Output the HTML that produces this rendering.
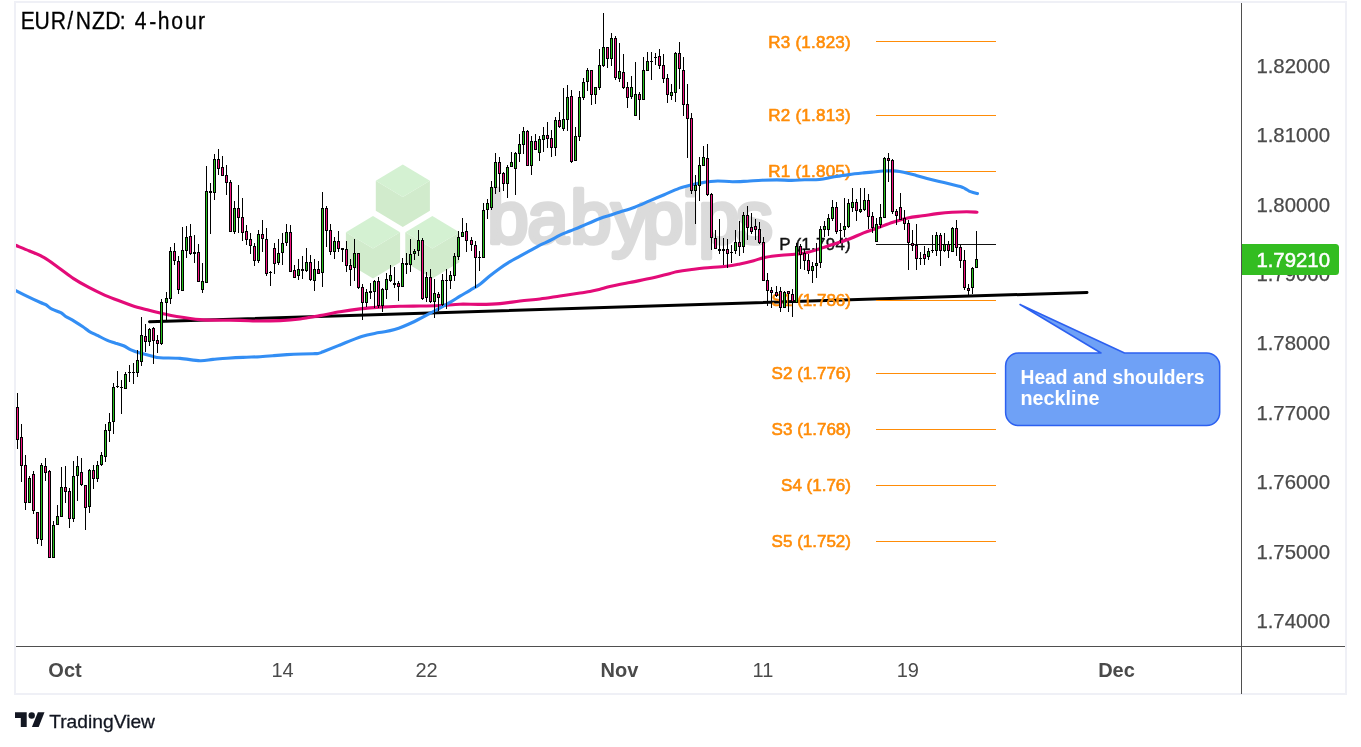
<!DOCTYPE html><html><head><meta charset="utf-8"><title>EUR/NZD: 4-hour</title>
<style>html,body{margin:0;padding:0;background:#fff}body{width:1361px;height:747px;overflow:hidden}svg{display:block}text{font-family:"Liberation Sans","DejaVu Sans",sans-serif}</style></head><body>
<svg width="1361" height="747" viewBox="0 0 1361 747">
<rect width="1361" height="747" fill="#fff"/>
<rect x="15" y="2" width="1331" height="692" fill="#fff" stroke="#eff0f6" stroke-width="2"/>
<g><polygon points="375.8,180.8 402.8,197.1 429.9,180.8 429.9,210.8 402.8,227.1 375.8,210.8" fill="#d1ebcc"/><polygon points="402.8,164.5 429.9,180.8 402.8,197.1 375.8,180.8" fill="#d4f1d2"/><polygon points="345.9,232.3 373.0,248.6 400.1,232.3 400.1,262.3 373.0,278.6 345.9,262.3" fill="#d1ebcc"/><polygon points="373.0,216.0 400.1,232.3 373.0,248.6 345.9,232.3" fill="#d4f1d2"/><polygon points="405.3,232.3 432.4,248.6 459.4,232.3 459.4,262.3 432.4,278.6 405.3,262.3" fill="#d1ebcc"/><polygon points="432.4,216.0 459.4,232.3 432.4,248.6 405.3,232.3" fill="#d4f1d2"/></g>
<text x="487.5 527.5 570.5 611.5 642.5 682.5 698.5 736" y="243.3" font-size="73.5" font-weight="400" fill="#dbdbdb" stroke="#dbdbdb" stroke-width="4.6" stroke-linejoin="round" stroke-linecap="round">babypips</text>
<path d="M149.5 321.75L1087 292.45" stroke="#000" stroke-width="3.0" stroke-linecap="round" fill="none"/>
<g shape-rendering="crispEdges">
<rect x="876" y="41" width="120" height="1" fill="#ff8c08"/>
<rect x="876" y="115" width="120" height="1" fill="#ff8c08"/>
<rect x="876" y="171" width="120" height="1" fill="#ff8c08"/>
<rect x="876" y="300" width="120" height="1" fill="#ff8c08"/>
<rect x="876" y="373" width="120" height="1" fill="#ff8c08"/>
<rect x="876" y="429" width="120" height="1" fill="#ff8c08"/>
<rect x="876" y="485" width="120" height="1" fill="#ff8c08"/>
<rect x="876" y="541" width="120" height="1" fill="#ff8c08"/>
<rect x="876" y="244" width="120" height="1" fill="#111"/>
</g>
<text x="851" y="47.6" font-size="17" letter-spacing="0.25" text-anchor="end" fill="#ff8c08" stroke="#ff8c08" stroke-width="0.6">R3 (1.823)</text>
<text x="851" y="120.8" font-size="17" letter-spacing="0.25" text-anchor="end" fill="#ff8c08" stroke="#ff8c08" stroke-width="0.6">R2 (1.813)</text>
<text x="851" y="176.8" font-size="17" letter-spacing="0.25" text-anchor="end" fill="#ff8c08" stroke="#ff8c08" stroke-width="0.6">R1 (1.805)</text>
<text x="851" y="305.8" font-size="17" letter-spacing="0" text-anchor="end" fill="#ff8c08" stroke="#ff8c08" stroke-width="0.6">S1 (1.786)</text>
<text x="851" y="378.8" font-size="17" letter-spacing="0" text-anchor="end" fill="#ff8c08" stroke="#ff8c08" stroke-width="0.6">S2 (1.776)</text>
<text x="851" y="434.8" font-size="17" letter-spacing="0" text-anchor="end" fill="#ff8c08" stroke="#ff8c08" stroke-width="0.6">S3 (1.768)</text>
<text x="851" y="490.8" font-size="17" letter-spacing="0" text-anchor="end" fill="#ff8c08" stroke="#ff8c08" stroke-width="0.6">S4 (1.76)</text>
<text x="851" y="546.8" font-size="17" letter-spacing="0" text-anchor="end" fill="#ff8c08" stroke="#ff8c08" stroke-width="0.6">S5 (1.752)</text>
<text x="851" y="250.2" font-size="17" letter-spacing="0.25" text-anchor="end" fill="#111" stroke="#111" stroke-width="0.4">P (1.794)</text>
<clipPath id="cp"><rect x="16" y="3" width="1225" height="643"/></clipPath>
<g clip-path="url(#cp)" fill="none" stroke-linecap="round" stroke-linejoin="round">
<path d="M12.0 244.0C12.6 244.2 12.6 244.1 15.5 245.3C18.4 246.5 24.7 248.9 29.5 251.0C34.3 253.1 39.3 254.8 44.2 257.6C49.1 260.4 54.1 264.4 59.0 267.9C63.9 271.4 68.7 275.4 73.6 278.6C78.5 281.8 83.5 284.6 88.4 287.2C93.3 289.8 98.1 292.2 103.0 294.4C107.9 296.6 112.9 298.4 117.8 300.3C122.7 302.2 127.6 304.1 132.5 305.7C137.4 307.3 142.4 308.5 147.3 309.8C152.2 311.1 157.1 312.4 162.0 313.5C166.9 314.6 170.4 315.5 176.7 316.5C183.0 317.5 192.8 319.0 200.0 319.6C207.2 320.2 213.3 320.1 220.0 320.2C226.7 320.3 233.3 320.3 240.0 320.4C246.7 320.5 253.3 321.0 260.0 321.0C266.7 321.0 273.3 320.9 280.0 320.6C286.7 320.3 293.3 319.8 300.0 319.0C306.7 318.2 313.3 316.8 320.0 315.6C326.7 314.4 333.3 312.9 340.0 311.8C346.7 310.7 353.3 309.7 360.0 308.9C366.7 308.1 373.3 307.5 380.0 307.1C386.7 306.7 393.3 306.5 400.0 306.3C406.7 306.1 413.3 306.1 420.0 306.0C426.7 305.9 433.3 305.8 440.0 305.5C446.7 305.2 453.3 304.4 460.0 304.2C466.7 304.0 473.3 304.5 480.0 304.4C486.7 304.3 493.3 304.2 500.0 303.6C506.7 303.0 513.3 301.8 520.0 301.0C526.7 300.2 533.3 299.8 540.0 299.0C546.7 298.2 553.3 297.0 560.0 296.0C566.7 295.0 575.0 293.8 580.0 293.0C585.0 292.2 586.7 292.1 590.0 291.5C593.3 290.9 596.7 290.0 600.0 289.2C603.3 288.4 604.8 287.7 609.8 286.6C614.8 285.5 623.1 283.9 629.7 282.6C636.3 281.3 642.9 280.1 649.5 278.6C656.1 277.1 664.9 274.8 669.4 273.7C673.9 272.6 673.1 272.4 676.5 271.8C679.9 271.2 685.4 270.4 690.0 269.8C694.6 269.2 698.1 268.6 704.1 268.0C710.1 267.4 720.2 266.9 726.2 266.2C732.2 265.5 735.4 264.8 740.0 263.9C744.6 263.0 749.6 261.8 753.7 260.7C757.8 259.6 760.1 258.4 764.7 257.5C769.3 256.6 776.2 255.8 781.3 255.3C786.3 254.8 790.5 254.8 795.0 254.3C799.5 253.8 802.8 253.7 808.3 252.3C813.8 250.9 821.5 248.0 828.1 245.9C834.7 243.8 842.1 241.7 848.0 239.5C853.9 237.3 858.5 234.9 863.6 232.9C868.7 230.9 873.5 229.4 878.4 227.6C883.3 225.8 888.1 223.8 893.0 222.2C897.9 220.6 902.9 219.1 907.8 218.0C912.7 216.9 917.6 216.5 922.5 215.8C927.4 215.1 932.4 214.2 937.3 213.6C942.2 213.0 947.1 212.5 952.0 212.2C956.9 211.9 962.5 211.7 966.7 211.7C970.9 211.7 975.3 212.1 977.0 212.2" stroke="#e30b78" stroke-width="3.1"/>
<path d="M12.0 288.8C12.6 289.1 13.2 289.4 15.8 290.6C18.4 291.9 23.2 294.3 27.3 296.3C31.4 298.3 37.4 301.1 40.5 302.5C43.6 303.9 43.9 303.6 45.8 304.7C47.7 305.8 49.5 307.9 52.0 309.2C54.5 310.5 58.6 311.5 60.8 312.7C63.0 313.9 63.1 314.8 65.3 316.2C67.5 317.6 71.2 319.3 74.1 321.1C77.0 322.9 80.4 325.1 82.9 326.8C85.4 328.5 86.6 329.8 89.1 331.3C91.6 332.8 95.0 334.2 98.0 335.7C101.0 337.2 103.9 338.9 106.8 340.1C109.7 341.4 112.8 342.2 115.6 343.2C118.4 344.1 121.0 344.7 123.6 345.8C126.2 346.9 128.3 348.6 131.0 349.8C133.7 351.0 136.6 352.0 140.0 353.0C143.4 354.0 148.2 355.2 151.5 356.0C154.8 356.8 155.2 357.4 160.0 357.8C164.8 358.2 173.3 357.9 180.0 358.4C186.7 358.9 194.5 360.6 200.0 360.8C205.5 361.0 208.5 359.8 213.0 359.4C217.5 359.0 222.0 358.5 227.0 358.2C232.0 357.9 237.5 357.6 243.0 357.4C248.5 357.1 254.8 357.0 260.0 356.7C265.2 356.4 269.5 356.0 274.0 355.6C278.5 355.2 282.3 354.9 287.0 354.6C291.7 354.3 297.7 354.1 302.0 354.0C306.3 353.9 310.3 353.8 313.0 353.7C315.7 353.6 316.3 353.8 318.0 353.5C319.7 353.2 319.4 353.2 323.0 351.8C326.6 350.4 333.1 347.8 339.5 345.2C345.9 342.6 355.0 338.5 361.6 336.4C368.2 334.3 373.7 333.7 379.2 332.6C384.7 331.5 388.7 331.5 394.6 329.6C400.5 327.8 407.9 324.6 414.5 321.5C421.1 318.4 428.4 314.2 434.3 311.0C440.2 307.8 445.7 304.9 450.0 302.4C454.3 299.9 456.7 298.2 460.0 296.2C463.3 294.2 466.7 292.3 470.0 290.3C473.3 288.3 476.7 286.6 480.0 284.2C483.3 281.8 486.7 278.4 490.0 275.8C493.3 273.2 496.7 270.7 500.0 268.3C503.3 265.9 506.7 263.7 510.0 261.7C513.3 259.7 516.7 258.0 520.0 256.1C523.3 254.3 526.7 252.4 530.0 250.6C533.3 248.8 536.7 246.8 540.0 245.1C543.3 243.4 546.7 242.2 550.0 240.5C553.3 238.8 556.7 236.8 560.0 235.2C563.3 233.6 566.7 232.4 570.0 231.0C573.3 229.6 575.0 229.1 580.0 227.0C585.0 224.9 595.0 220.4 600.0 218.5C605.0 216.6 606.7 216.4 610.0 215.3C613.3 214.2 615.9 213.3 620.0 212.0C624.1 210.7 629.8 209.0 634.7 207.2C639.6 205.3 644.6 203.0 649.5 200.9C654.4 198.8 659.3 196.8 664.2 194.7C669.1 192.6 675.3 189.8 679.0 188.4C682.7 187.0 683.9 186.9 686.3 186.2C688.7 185.5 691.1 184.9 693.6 184.4C696.1 183.9 698.5 183.3 701.0 182.9C703.5 182.5 705.6 182.1 708.4 181.8C711.2 181.5 713.8 181.0 717.8 181.0C721.8 181.0 727.6 181.7 732.5 181.7C737.4 181.7 742.4 181.4 747.3 181.2C752.2 180.9 757.1 180.4 762.0 180.2C766.9 180.0 771.8 179.9 776.7 179.9C781.6 179.9 786.8 180.4 791.5 180.4C796.2 180.4 800.0 180.0 804.7 179.8C809.4 179.7 814.6 180.0 819.5 179.5C824.4 179.0 829.3 177.6 834.2 176.8C839.1 176.0 844.1 175.2 849.0 174.6C853.9 173.9 859.8 173.3 863.6 172.9C867.4 172.5 868.8 172.4 872.0 172.1C875.2 171.8 879.5 171.2 883.0 171.0C886.5 170.8 890.2 170.8 893.0 170.9C895.8 171.0 897.1 171.1 899.6 171.5C902.1 171.9 905.0 172.5 907.8 173.2C910.6 173.8 913.0 174.5 916.2 175.4C919.4 176.3 923.3 177.4 927.0 178.4C930.7 179.4 934.5 180.4 938.2 181.3C941.9 182.2 945.3 183.0 949.0 183.8C952.7 184.7 957.6 185.6 960.3 186.4C963.0 187.2 963.5 187.8 965.0 188.6C966.5 189.4 967.8 190.5 969.1 191.1C970.4 191.7 971.6 192.0 973.0 192.4C974.4 192.8 976.8 193.4 977.5 193.6" stroke="#338ef4" stroke-width="3.1"/>
</g>
<g shape-rendering="crispEdges">
<path d="M17 393h1v56h-1zM16 407h3v33h-3zM21 424h1v58h-1zM20 437h3v29h-3zM25 455h1v55h-1zM24 465h3v38h-3zM29 476h1v27h-1zM28 478h3v25h-3zM33 471h1v43h-1zM32 474h3v37h-3zM37 512h1v32h-1zM36 512h3v27h-3zM41 463h1v83h-1zM40 465h3v75h-3zM45 458h1v23h-1zM44 466h3v7h-3zM49 470h1v88h-1zM48 471h3v87h-3zM53 521h1v37h-1zM52 525h3v33h-3zM57 505h1v20h-1zM56 516h3v9h-3zM61 467h1v50h-1zM60 487h3v30h-3zM65 466h1v37h-1zM64 487h3v5h-3zM69 488h1v40h-1zM68 491h3v28h-3zM73 461h1v61h-1zM72 476h3v43h-3zM77 456h1v45h-1zM76 466h3v10h-3zM81 458h1v28h-1zM80 472h3v13h-3zM85 485h1v45h-1zM84 485h3v23h-3zM89 469h1v44h-1zM88 470h3v37h-3zM93 465h1v24h-1zM92 470h3v9h-3zM97 461h1v21h-1zM96 465h3v14h-3zM101 452h1v14h-1zM100 455h3v10h-3zM105 424h1v38h-1zM104 430h3v27h-3zM109 413h1v29h-1zM108 422h3v9h-3zM113 383h1v51h-1zM112 387h3v35h-3zM117 371h1v17h-1zM116 386h3v1h-3zM121 380h1v34h-1zM120 387h3v1h-3zM125 372h1v17h-1zM124 374h3v15h-3zM129 365h1v17h-1zM128 372h3v1h-3zM133 363h1v21h-1zM132 372h3v1h-3zM137 350h1v27h-1zM136 360h3v13h-3zM141 317h1v49h-1zM140 335h3v27h-3zM145 324h1v28h-1zM144 336h3v6h-3zM149 328h1v18h-1zM148 329h3v13h-3zM153 327h1v37h-1zM152 328h3v13h-3zM157 335h1v18h-1zM156 340h3v4h-3zM161 299h1v46h-1zM160 302h3v42h-3zM166 292h1v28h-1zM165 298h3v5h-3zM170 247h1v57h-1zM169 251h3v48h-3zM174 243h1v22h-1zM173 251h3v10h-3zM178 256h1v38h-1zM177 261h3v29h-3zM182 227h1v64h-1zM181 250h3v41h-3zM186 226h1v32h-1zM185 237h3v14h-3zM190 224h1v31h-1zM189 236h3v18h-3zM194 235h1v28h-1zM193 252h3v2h-3zM198 244h1v38h-1zM197 252h3v30h-3zM202 263h1v30h-1zM201 281h3v9h-3zM206 166h1v117h-1zM205 191h3v92h-3zM210 183h1v51h-1zM209 191h3v2h-3zM214 154h1v46h-1zM213 159h3v34h-3zM218 149h1v26h-1zM217 159h3v10h-3zM222 156h1v20h-1zM221 167h3v9h-3zM226 165h1v30h-1zM225 175h3v8h-3zM230 180h1v52h-1zM229 182h3v50h-3zM234 201h1v33h-1zM233 208h3v24h-3zM238 185h1v48h-1zM237 208h3v10h-3zM242 198h1v43h-1zM241 217h3v16h-3zM246 225h1v20h-1zM245 231h3v9h-3zM250 233h1v21h-1zM249 239h3v7h-3zM254 243h1v23h-1zM253 246h3v15h-3zM258 230h1v33h-1zM257 234h3v27h-3zM262 220h1v32h-1zM261 234h3v5h-3zM266 228h1v48h-1zM265 239h3v35h-3zM270 271h1v15h-1zM269 272h3v1h-3zM274 243h1v31h-1zM273 248h3v16h-3zM278 239h1v26h-1zM277 253h3v10h-3zM282 233h1v32h-1zM281 243h3v10h-3zM286 224h1v22h-1zM285 232h3v11h-3zM290 225h1v47h-1zM289 232h3v40h-3zM294 265h1v13h-1zM293 270h3v8h-3zM298 259h1v21h-1zM297 269h3v7h-3zM302 256h1v23h-1zM301 269h3v2h-3zM306 248h1v24h-1zM305 262h3v9h-3zM310 255h1v26h-1zM309 262h3v18h-3zM314 259h1v32h-1zM313 269h3v12h-3zM318 261h1v13h-1zM317 269h3v5h-3zM322 192h1v95h-1zM321 208h3v65h-3zM326 206h1v41h-1zM325 208h3v23h-3zM330 224h1v31h-1zM329 230h3v22h-3zM334 237h1v22h-1zM333 241h3v11h-3zM338 231h1v21h-1zM337 241h3v8h-3zM342 248h1v14h-1zM341 248h3v2h-3zM346 241h1v31h-1zM345 249h3v17h-3zM350 259h1v27h-1zM349 265h3v5h-3zM354 239h1v42h-1zM353 253h3v15h-3zM358 253h1v36h-1zM357 253h3v35h-3zM362 284h1v36h-1zM361 287h3v16h-3zM366 289h1v18h-1zM365 292h3v11h-3zM370 283h1v16h-1zM369 291h3v2h-3zM374 280h1v28h-1zM373 281h3v11h-3zM378 277h1v31h-1zM377 281h3v25h-3zM382 288h1v24h-1zM381 289h3v17h-3zM386 273h1v26h-1zM385 279h3v11h-3zM390 265h1v17h-1zM389 275h3v6h-3zM394 267h1v21h-1zM393 283h3v2h-3zM398 281h1v20h-1zM397 283h3v4h-3zM402 258h1v29h-1zM401 263h3v24h-3zM406 253h1v21h-1zM405 263h3v2h-3zM410 239h1v33h-1zM409 254h3v11h-3zM414 249h1v11h-1zM413 251h3v3h-3zM418 230h1v26h-1zM417 240h3v11h-3zM422 238h1v62h-1zM421 240h3v59h-3zM426 272h1v30h-1zM425 277h3v21h-3zM430 269h1v34h-1zM429 277h3v25h-3zM434 279h1v39h-1zM433 293h3v9h-3zM438 292h1v19h-1zM437 294h3v4h-3zM442 274h1v32h-1zM441 280h3v25h-3zM446 269h1v40h-1zM445 280h3v1h-3zM450 271h1v18h-1zM449 275h3v6h-3zM454 253h1v28h-1zM453 256h3v20h-3zM458 231h1v29h-1zM457 237h3v20h-3zM462 218h1v19h-1zM461 232h3v5h-3zM466 223h1v29h-1zM465 231h3v10h-3zM471 237h1v14h-1zM470 240h3v5h-3zM475 241h1v47h-1zM474 245h3v13h-3zM479 251h1v20h-1zM478 257h3v1h-3zM483 203h1v55h-1zM482 210h3v48h-3zM487 199h1v20h-1zM486 203h3v7h-3zM491 181h1v29h-1zM490 187h3v21h-3zM495 153h1v41h-1zM494 162h3v26h-3zM499 157h1v35h-1zM498 162h3v12h-3zM503 172h1v19h-1zM502 173h3v11h-3zM507 165h1v33h-1zM506 167h3v17h-3zM511 152h1v15h-1zM510 162h3v5h-3zM515 152h1v43h-1zM514 153h3v16h-3zM519 134h1v28h-1zM518 144h3v10h-3zM523 127h1v27h-1zM522 131h3v14h-3zM527 130h1v36h-1zM526 131h3v35h-3zM531 136h1v39h-1zM530 141h3v25h-3zM535 134h1v16h-1zM534 141h3v9h-3zM539 136h1v25h-1zM538 139h3v14h-3zM543 127h1v25h-1zM542 135h3v5h-3zM547 122h1v26h-1zM546 135h3v4h-3zM551 130h1v27h-1zM550 138h3v10h-3zM555 117h1v39h-1zM554 120h3v28h-3zM559 112h1v16h-1zM558 120h3v7h-3zM563 88h1v43h-1zM562 119h3v10h-3zM567 85h1v46h-1zM566 97h3v23h-3zM571 90h1v73h-1zM570 96h3v66h-3zM575 127h1v34h-1zM574 136h3v25h-3zM579 91h1v50h-1zM578 97h3v40h-3zM583 78h1v22h-1zM582 82h3v16h-3zM587 68h1v23h-1zM586 70h3v12h-3zM591 70h1v35h-1zM590 70h3v25h-3zM595 87h1v17h-1zM594 87h3v8h-3zM599 49h1v41h-1zM598 65h3v23h-3zM603 13h1v54h-1zM602 47h3v19h-3zM607 47h1v21h-1zM606 47h3v12h-3zM611 33h1v33h-1zM610 38h3v21h-3zM615 36h1v44h-1zM614 38h3v40h-3zM619 43h1v39h-1zM618 71h3v8h-3zM623 54h1v35h-1zM622 72h3v16h-3zM627 82h1v26h-1zM626 87h3v11h-3zM631 76h1v23h-1zM630 87h3v10h-3zM635 62h1v54h-1zM634 94h3v22h-3zM639 92h1v28h-1zM638 94h3v6h-3zM643 57h1v43h-1zM642 70h3v30h-3zM647 52h1v19h-1zM646 61h3v10h-3zM651 52h1v28h-1zM650 61h3v1h-3zM655 53h1v12h-1zM654 57h3v1h-3zM659 49h1v20h-1zM658 56h3v10h-3zM663 54h1v29h-1zM662 65h3v14h-3zM667 74h1v29h-1zM666 78h3v17h-3zM671 84h1v16h-1zM670 92h3v4h-3zM675 52h1v50h-1zM674 53h3v40h-3zM679 42h1v47h-1zM678 53h3v16h-3zM683 57h1v59h-1zM682 70h3v35h-3zM687 84h1v74h-1zM686 104h3v15h-3zM691 113h1v81h-1zM690 118h3v73h-3zM695 175h1v49h-1zM694 185h3v6h-3zM699 157h1v44h-1zM698 165h3v21h-3zM703 146h1v20h-1zM702 157h3v9h-3zM707 144h1v52h-1zM706 158h3v37h-3zM711 193h1v57h-1zM710 194h3v44h-3zM715 230h1v19h-1zM714 238h3v11h-3zM719 219h1v35h-1zM718 249h3v2h-3zM723 238h1v27h-1zM722 249h3v2h-3zM727 239h1v29h-1zM726 249h3v5h-3zM731 245h1v18h-1zM730 252h3v1h-3zM735 230h1v24h-1zM734 242h3v9h-3zM739 221h1v35h-1zM738 242h3v5h-3zM743 212h1v41h-1zM742 215h3v32h-3zM747 206h1v34h-1zM746 215h3v13h-3zM751 213h1v21h-1zM750 227h3v5h-3zM755 219h1v21h-1zM754 226h3v4h-3zM759 222h1v22h-1zM758 229h3v14h-3zM763 237h1v44h-1zM762 242h3v39h-3zM767 273h1v33h-1zM766 280h3v11h-3zM771 287h1v21h-1zM770 290h3v3h-3zM776 286h1v11h-1zM775 292h3v4h-3zM780 287h1v25h-1zM779 291h3v17h-3zM784 291h1v17h-1zM783 292h3v16h-3zM788 291h1v21h-1zM787 291h3v3h-3zM792 289h1v28h-1zM791 294h3v8h-3zM796 243h1v60h-1zM795 246h3v57h-3zM800 244h1v25h-1zM799 246h3v9h-3zM804 249h1v21h-1zM803 253h3v8h-3zM808 254h1v20h-1zM807 260h3v11h-3zM812 262h1v21h-1zM811 266h3v5h-3zM816 243h1v35h-1zM815 263h3v3h-3zM820 226h1v42h-1zM819 229h3v34h-3zM824 221h1v16h-1zM823 226h3v4h-3zM828 214h1v22h-1zM827 218h3v12h-3zM832 200h1v21h-1zM831 207h3v12h-3zM836 202h1v32h-1zM835 207h3v25h-3zM840 223h1v20h-1zM839 230h3v1h-3zM844 198h1v39h-1zM843 226h3v4h-3zM848 199h1v29h-1zM847 203h3v24h-3zM852 188h1v24h-1zM851 202h3v6h-3zM856 199h1v22h-1zM855 202h3v9h-3zM860 188h1v25h-1zM859 209h3v3h-3zM864 188h1v23h-1zM863 200h3v10h-3zM868 194h1v35h-1zM867 200h3v17h-3zM872 212h1v21h-1zM871 216h3v12h-3zM876 218h1v24h-1zM875 224h3v18h-3zM880 204h1v24h-1zM879 217h3v8h-3zM884 157h1v61h-1zM883 158h3v60h-3zM888 153h1v29h-1zM887 158h3v3h-3zM892 159h1v55h-1zM891 160h3v52h-3zM896 209h1v16h-1zM895 211h3v5h-3zM900 193h1v27h-1zM899 207h3v13h-3zM904 210h1v20h-1zM903 218h3v6h-3zM908 220h1v50h-1zM907 223h3v20h-3zM912 230h1v21h-1zM911 243h3v3h-3zM916 224h1v46h-1zM915 245h3v14h-3zM920 252h1v13h-1zM919 258h3v1h-3zM924 246h1v19h-1zM923 254h3v5h-3zM928 248h1v12h-1zM927 251h3v6h-3zM932 235h1v18h-1zM931 250h3v1h-3zM936 232h1v24h-1zM935 235h3v16h-3zM940 233h1v33h-1zM939 235h3v16h-3zM944 233h1v19h-1zM943 244h3v7h-3zM948 241h1v17h-1zM947 244h3v7h-3zM952 227h1v25h-1zM951 228h3v24h-3zM956 220h1v36h-1zM955 228h3v20h-3zM960 245h1v23h-1zM959 247h3v14h-3zM964 250h1v40h-1zM963 260h3v28h-3zM968 284h1v11h-1zM967 288h3v3h-3zM972 267h1v27h-1zM971 268h3v20h-3zM976 231h1v37h-1zM975 259h3v9h-3z" fill="#000"/>
<path d="M29 479h1v23h-1zM41 466h1v73h-1zM53 526h1v31h-1zM57 517h1v7h-1zM61 488h1v28h-1zM73 477h1v41h-1zM77 467h1v8h-1zM89 471h1v35h-1zM97 466h1v12h-1zM101 456h1v8h-1zM105 431h1v25h-1zM109 423h1v7h-1zM113 388h1v33h-1zM125 375h1v13h-1zM137 361h1v11h-1zM141 336h1v25h-1zM149 330h1v11h-1zM161 303h1v40h-1zM166 299h1v3h-1zM170 252h1v46h-1zM182 251h1v39h-1zM186 238h1v12h-1zM202 282h1v7h-1zM206 192h1v90h-1zM214 160h1v32h-1zM234 209h1v22h-1zM258 235h1v25h-1zM278 254h1v8h-1zM282 244h1v8h-1zM286 233h1v9h-1zM298 270h1v5h-1zM306 263h1v7h-1zM314 270h1v10h-1zM322 209h1v63h-1zM334 242h1v9h-1zM354 254h1v13h-1zM366 293h1v9h-1zM374 282h1v9h-1zM382 290h1v15h-1zM386 280h1v9h-1zM390 276h1v4h-1zM402 264h1v22h-1zM410 255h1v9h-1zM414 252h1v1h-1zM418 241h1v9h-1zM426 278h1v19h-1zM434 294h1v7h-1zM442 281h1v23h-1zM450 276h1v4h-1zM454 257h1v18h-1zM458 238h1v18h-1zM462 233h1v3h-1zM483 211h1v46h-1zM487 204h1v5h-1zM491 188h1v19h-1zM495 163h1v24h-1zM507 168h1v15h-1zM511 163h1v3h-1zM515 154h1v14h-1zM519 145h1v8h-1zM523 132h1v12h-1zM531 142h1v23h-1zM539 140h1v12h-1zM543 136h1v3h-1zM555 121h1v26h-1zM563 120h1v8h-1zM567 98h1v21h-1zM575 137h1v23h-1zM579 98h1v38h-1zM583 83h1v14h-1zM587 71h1v10h-1zM595 88h1v6h-1zM599 66h1v21h-1zM603 48h1v17h-1zM611 39h1v19h-1zM619 72h1v6h-1zM631 88h1v8h-1zM635 95h1v20h-1zM643 71h1v28h-1zM647 62h1v8h-1zM671 93h1v2h-1zM675 54h1v38h-1zM695 186h1v4h-1zM699 166h1v19h-1zM703 158h1v7h-1zM735 243h1v7h-1zM743 216h1v30h-1zM784 293h1v14h-1zM796 247h1v55h-1zM812 267h1v3h-1zM816 264h1v1h-1zM820 230h1v32h-1zM824 227h1v2h-1zM828 219h1v10h-1zM832 208h1v10h-1zM844 227h1v2h-1zM848 204h1v22h-1zM852 203h1v4h-1zM860 210h1v1h-1zM864 201h1v8h-1zM876 225h1v16h-1zM880 218h1v6h-1zM884 159h1v58h-1zM928 252h1v4h-1zM936 236h1v14h-1zM944 245h1v5h-1zM952 229h1v22h-1zM972 269h1v18h-1zM976 260h1v7h-1z" fill="#27c01d"/>
<path d="M17 408h1v31h-1zM21 438h1v27h-1zM25 466h1v36h-1zM33 475h1v35h-1zM37 513h1v25h-1zM45 467h1v5h-1zM49 472h1v85h-1zM65 488h1v3h-1zM69 492h1v26h-1zM81 473h1v11h-1zM85 486h1v21h-1zM93 471h1v7h-1zM145 337h1v4h-1zM153 329h1v11h-1zM157 341h1v2h-1zM174 252h1v8h-1zM178 262h1v27h-1zM190 237h1v16h-1zM198 253h1v28h-1zM218 160h1v8h-1zM222 168h1v7h-1zM226 176h1v6h-1zM230 183h1v48h-1zM238 209h1v8h-1zM242 218h1v14h-1zM246 232h1v7h-1zM250 240h1v5h-1zM254 247h1v13h-1zM262 235h1v3h-1zM266 240h1v33h-1zM274 249h1v14h-1zM290 233h1v38h-1zM294 271h1v6h-1zM310 263h1v16h-1zM318 270h1v3h-1zM326 209h1v21h-1zM330 231h1v20h-1zM338 242h1v6h-1zM346 250h1v15h-1zM350 266h1v3h-1zM358 254h1v33h-1zM362 288h1v14h-1zM378 282h1v23h-1zM398 284h1v2h-1zM422 241h1v57h-1zM430 278h1v23h-1zM438 295h1v2h-1zM466 232h1v8h-1zM471 241h1v3h-1zM475 246h1v11h-1zM499 163h1v10h-1zM503 174h1v9h-1zM527 132h1v33h-1zM535 142h1v7h-1zM547 136h1v2h-1zM551 139h1v8h-1zM559 121h1v5h-1zM571 97h1v64h-1zM591 71h1v23h-1zM607 48h1v10h-1zM615 39h1v38h-1zM623 73h1v14h-1zM627 88h1v9h-1zM639 95h1v4h-1zM659 57h1v8h-1zM663 66h1v12h-1zM667 79h1v15h-1zM679 54h1v14h-1zM683 71h1v33h-1zM687 105h1v13h-1zM691 119h1v71h-1zM707 159h1v35h-1zM711 195h1v42h-1zM715 239h1v9h-1zM727 250h1v3h-1zM739 243h1v3h-1zM747 216h1v11h-1zM751 228h1v3h-1zM755 227h1v2h-1zM759 230h1v12h-1zM763 243h1v37h-1zM767 281h1v9h-1zM771 291h1v1h-1zM776 293h1v2h-1zM780 292h1v15h-1zM788 292h1v1h-1zM792 295h1v6h-1zM800 247h1v7h-1zM804 254h1v6h-1zM808 261h1v9h-1zM836 208h1v23h-1zM856 203h1v7h-1zM868 201h1v15h-1zM872 217h1v10h-1zM888 159h1v1h-1zM892 161h1v50h-1zM896 212h1v3h-1zM900 208h1v11h-1zM904 219h1v4h-1zM908 224h1v18h-1zM912 244h1v1h-1zM916 246h1v12h-1zM924 255h1v3h-1zM940 236h1v14h-1zM948 245h1v5h-1zM956 229h1v18h-1zM960 248h1v12h-1zM964 261h1v26h-1zM968 289h1v1h-1z" fill="#f2127f"/>
</g>
<path d="M1018.6 353H1101L1020 304.5L1124.5 353H1206.7a13 13 0 0 1 13 13V412.5a13 13 0 0 1 -13 13H1018.6a13 13 0 0 1 -13 -13V366a13 13 0 0 1 13 -13z" fill="#6fa1f6" stroke="#2c60f0" stroke-width="1.5" stroke-linejoin="round"/>
<text x="1020.5" y="384.4" font-size="20" font-weight="700" fill="#fff" textLength="184" lengthAdjust="spacingAndGlyphs">Head and shoulders</text>
<text x="1020.5" y="405.3" font-size="20" font-weight="700" fill="#fff" textLength="79" lengthAdjust="spacingAndGlyphs">neckline</text>
<g shape-rendering="crispEdges"><rect x="1241" y="3" width="1" height="691" fill="#4f4f4f"/><rect x="16" y="646" width="1329" height="1" fill="#4f4f4f"/></g>
<text x="1256.4" y="72.8" font-size="20.6" fill="#4a4a4a" stroke="#4a4a4a" stroke-width="0.25" textLength="73.6" lengthAdjust="spacingAndGlyphs">1.82000</text>
<text x="1256.4" y="142.2" font-size="20.6" fill="#4a4a4a" stroke="#4a4a4a" stroke-width="0.25" textLength="73.6" lengthAdjust="spacingAndGlyphs">1.81000</text>
<text x="1256.4" y="211.6" font-size="20.6" fill="#4a4a4a" stroke="#4a4a4a" stroke-width="0.25" textLength="73.6" lengthAdjust="spacingAndGlyphs">1.80000</text>
<text x="1256.4" y="281.0" font-size="20.6" fill="#4a4a4a" stroke="#4a4a4a" stroke-width="0.25" textLength="73.6" lengthAdjust="spacingAndGlyphs">1.79000</text>
<text x="1256.4" y="350.4" font-size="20.6" fill="#4a4a4a" stroke="#4a4a4a" stroke-width="0.25" textLength="73.6" lengthAdjust="spacingAndGlyphs">1.78000</text>
<text x="1256.4" y="419.8" font-size="20.6" fill="#4a4a4a" stroke="#4a4a4a" stroke-width="0.25" textLength="73.6" lengthAdjust="spacingAndGlyphs">1.77000</text>
<text x="1256.4" y="489.2" font-size="20.6" fill="#4a4a4a" stroke="#4a4a4a" stroke-width="0.25" textLength="73.6" lengthAdjust="spacingAndGlyphs">1.76000</text>
<text x="1256.4" y="558.6" font-size="20.6" fill="#4a4a4a" stroke="#4a4a4a" stroke-width="0.25" textLength="73.6" lengthAdjust="spacingAndGlyphs">1.75000</text>
<text x="1256.4" y="628.0" font-size="20.6" fill="#4a4a4a" stroke="#4a4a4a" stroke-width="0.25" textLength="73.6" lengthAdjust="spacingAndGlyphs">1.74000</text>
<path d="M1242 244h93.5a3.5 3.5 0 0 1 3.5 3.5v24a3.5 3.5 0 0 1 -3.5 3.5H1242z" fill="#33bd21"/>
<text x="1256.4" y="266.9" font-size="20.6" fill="#fff" stroke="#fff" stroke-width="0.5" textLength="73.6" lengthAdjust="spacingAndGlyphs">1.79210</text>
<text x="65" y="676.7" font-size="20" font-weight="700" text-anchor="middle" fill="#4a4a4a">Oct</text>
<text x="282.5" y="676.7" font-size="20" font-weight="400" text-anchor="middle" fill="#4a4a4a">14</text>
<text x="426.5" y="676.7" font-size="20" font-weight="400" text-anchor="middle" fill="#4a4a4a">22</text>
<text x="619.5" y="676.7" font-size="20" font-weight="700" text-anchor="middle" fill="#4a4a4a">Nov</text>
<text x="763" y="676.7" font-size="20" font-weight="400" text-anchor="middle" fill="#4a4a4a">11</text>
<text x="907.8" y="676.7" font-size="20" font-weight="400" text-anchor="middle" fill="#4a4a4a">19</text>
<text x="1116.5" y="676.7" font-size="20" font-weight="700" text-anchor="middle" fill="#4a4a4a">Dec</text>
<text transform="scale(0.88 1)" x="23.5 39.2 57.7 76.4 86.2 104.5 119.5 136.2 145.5 153.2 169.5 179.3 194.7 210.1 225.1" y="28.9" font-size="24" fill="#000" stroke="#000" stroke-width="0.3">EUR/NZD: 4-hour</text>
<g fill="#131722"><path d="M15 712.3h11.7v14.6h-5.9v-8.9H15z"/><circle cx="31.7" cy="715.5" r="3.2"/><path d="M37.9 712.3h6.6l-5.8 14.6h-6.8z"/></g>
<text x="49.2" y="727.7" font-size="19" fill="#131722" stroke="#131722" stroke-width="0.3" textLength="105.8" lengthAdjust="spacingAndGlyphs">TradingView</text>
</svg></body></html>
